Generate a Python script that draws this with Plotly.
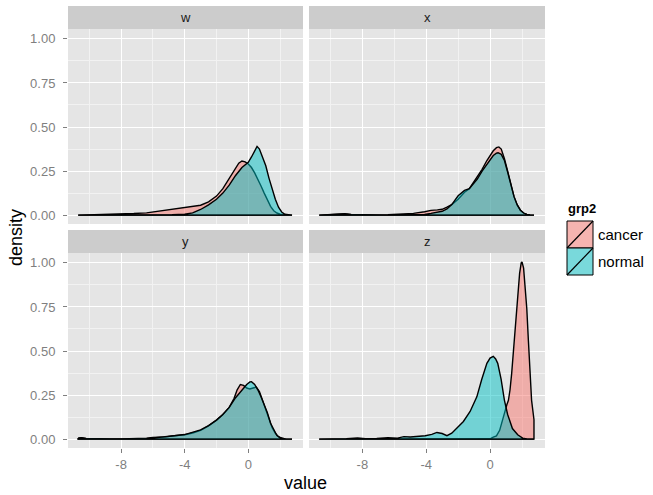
import plotly.graph_objects as go

# ---------------- data ----------------
facets = ["w", "x", "y", "z"]
groups = ["cancer", "normal"]
x_ticks = [-8, -4, 0]
y_ticks = [0.0, 0.25, 0.5, 0.75, 1.0]
y_tick_labels = ["0.00", "0.25", "0.50", "0.75", "1.00"]

w_cancer_x = [-10.7, -10.3, -9.5, -8.7, -8.0, -7.2, -6.4, -5.6, -4.8, -4.0, -3.5, -3.0, -2.5, -2.0, -1.6, -1.2,
              -0.8, -0.6, -0.4, -0.2, 0.0, 0.2, 0.4, 0.6, 0.8, 1.0, 1.2, 1.4, 1.6, 1.8, 2.0, 2.2, 2.4, 2.75]
w_cancer_d = [0.0, 0.001, 0.001, 0.002, 0.004, 0.009, 0.013, 0.023, 0.031, 0.045, 0.05, 0.056, 0.075, 0.108, 0.15, 0.21,
              0.265, 0.295, 0.307, 0.302, 0.29, 0.27, 0.24, 0.205, 0.165, 0.125, 0.085, 0.05, 0.025, 0.012, 0.005, 0.002, 0.0, 0.0]
w_normal_x = [-10.7, -8.0, -6.0, -4.8, -4.0, -3.5, -3.0, -2.5, -2.0, -1.6, -1.2, -0.8, -0.4, 0.0, 0.2, 0.4, 0.55,
              0.7, 0.9, 1.1, 1.3, 1.5, 1.7, 1.9, 2.1, 2.3, 2.5, 2.75]
w_normal_d = [0.0, 0.0, 0.001, 0.002, 0.005, 0.013, 0.032, 0.058, 0.09, 0.125, 0.17, 0.225, 0.27, 0.30, 0.33, 0.37, 0.39,
              0.375, 0.33, 0.28, 0.21, 0.15, 0.09, 0.045, 0.018, 0.005, 0.001, 0.0]

x_cancer_x = [-10.7, -9.5, -9.1, -8.7, -8.0, -7.2, -6.4, -5.6, -4.8, -4.1, -3.7, -3.3, -3.0, -2.7, -2.4, -2.0, -1.6,
              -1.3, -1.0, -0.8, -0.5, -0.2, 0.0, 0.2, 0.4, 0.55, 0.7, 0.9, 1.1, 1.3, 1.5, 1.7, 1.9, 2.1, 2.3, 2.5, 2.75]
x_cancer_d = [0.0, 0.003, 0.008, 0.004, 0.001, 0.001, 0.002, 0.004, 0.01, 0.019, 0.027, 0.03, 0.033, 0.045, 0.06, 0.09, 0.13,
              0.15, 0.19, 0.215, 0.26, 0.31, 0.34, 0.365, 0.383, 0.387, 0.375, 0.32, 0.25, 0.17, 0.105, 0.058, 0.028, 0.012, 0.004, 0.001, 0.0]
x_normal_x = [-10.7, -9.5, -9.1, -8.7, -8.0, -7.2, -6.4, -5.6, -4.8, -4.1, -3.7, -3.3, -3.0, -2.7, -2.4, -2.0, -1.6,
              -1.3, -1.0, -0.8, -0.5, -0.2, 0.0, 0.2, 0.4, 0.5, 0.7, 0.9, 1.1, 1.3, 1.5, 1.7, 1.9, 2.1, 2.3, 2.5, 2.75]
x_normal_d = [0.0, 0.003, 0.007, 0.003, 0.001, 0.0, 0.0, 0.001, 0.002, 0.004, 0.01, 0.016, 0.022, 0.035, 0.06, 0.11, 0.14,
              0.15, 0.18, 0.205, 0.25, 0.29, 0.315, 0.338, 0.352, 0.354, 0.345, 0.31, 0.245, 0.17, 0.105, 0.058, 0.028, 0.012, 0.004, 0.001, 0.0]

y_cancer_x = [-10.7, -10.5, -10.2, -9.5, -8.7, -8.0, -7.2, -6.4, -6.0, -5.6, -5.2, -4.8, -4.0, -3.5, -3.0, -2.5, -2.0,
              -1.6, -1.2, -0.9, -0.7, -0.5, -0.3, -0.1, 0.1, 0.3, 0.5, 0.7, 0.9, 1.1, 1.3, 1.5, 1.7, 1.9, 2.1, 2.3, 2.75]
y_cancer_d = [0.005, 0.008, 0.004, 0.001, 0.001, 0.001, 0.002, 0.005, 0.01, 0.01, 0.013, 0.018, 0.025, 0.035, 0.05, 0.075, 0.108,
              0.14, 0.18, 0.23, 0.28, 0.31, 0.305, 0.29, 0.285, 0.29, 0.295, 0.27, 0.22, 0.165, 0.11, 0.065, 0.033, 0.014, 0.005, 0.001, 0.0]
y_normal_x = [-10.7, -10.5, -10.2, -9.5, -8.0, -6.4, -6.0, -5.6, -5.2, -4.8, -4.0, -3.5, -3.0, -2.5, -2.0, -1.6, -1.2,
              -0.8, -0.5, -0.3, -0.1, 0.1, 0.2, 0.4, 0.6, 0.8, 1.0, 1.2, 1.4, 1.6, 1.8, 2.0, 2.2, 2.4, 2.75]
y_normal_d = [0.006, 0.008, 0.003, 0.001, 0.001, 0.003, 0.006, 0.008, 0.012, 0.018, 0.026, 0.038, 0.052, 0.077, 0.108, 0.14, 0.18,
              0.235, 0.27, 0.29, 0.31, 0.325, 0.326, 0.31, 0.28, 0.24, 0.20, 0.15, 0.09, 0.05, 0.02, 0.008, 0.002, 0.0, 0.0]

z_cancer_x = [-10.7, -8.0, -4.0, -1.0, 0.0, 0.2, 0.4, 0.6, 0.8, 0.95, 1.05, 1.15, 1.25, 1.35, 1.45, 1.55, 1.65, 1.75,
              1.85, 1.95, 2.0, 2.1, 2.2, 2.3, 2.4, 2.5, 2.6, 2.75]
z_cancer_d = [0.0, 0.0, 0.0, 0.001, 0.002, 0.011, 0.018, 0.05, 0.12, 0.17, 0.195, 0.22, 0.28, 0.37, 0.48, 0.61, 0.73, 0.85,
              0.94, 1.0, 1.006, 0.97, 0.87, 0.74, 0.56, 0.38, 0.22, 0.11]
z_normal_x = [-10.7, -9.8, -9.0, -8.3, -7.8, -7.1, -6.4, -5.8, -5.4, -5.0, -4.6, -4.06, -3.65, -3.33, -3.0, -2.7, -2.4,
              -2.08, -1.67, -1.25, -0.83, -0.52, -0.2, 0.0, 0.2, 0.35, 0.48, 0.69, 0.9, 1.1, 1.4, 1.73, 2.04, 2.3, 2.75]
z_normal_d = [0.0, 0.0, 0.002, 0.007, 0.002, 0.004, 0.008, 0.006, 0.014, 0.012, 0.015, 0.019, 0.027, 0.038, 0.032, 0.02, 0.034,
              0.063, 0.10, 0.157, 0.24, 0.34, 0.43, 0.46, 0.47, 0.455, 0.43, 0.34, 0.22, 0.14, 0.06, 0.025, 0.006, 0.001, 0.0]

series = {
    "w": [(w_cancer_x, w_cancer_d), (w_normal_x, w_normal_d)],
    "x": [(x_cancer_x, x_cancer_d), (x_normal_x, x_normal_d)],
    "y": [(y_cancer_x, y_cancer_d), (y_normal_x, y_normal_d)],
    "z": [(z_cancer_x, z_cancer_d), (z_normal_x, z_normal_d)],
}

# ---------------- styling / layout ----------------
W, H = 653, 495
FONT = "Liberation Sans, Arial, Helvetica, sans-serif"
fills = ["rgba(248,118,109,0.5)", "rgba(0,191,196,0.5)"]
GREY50 = "#7F7F7F"

def px_x(p):
    return p / W

def px_y(p):
    return 1 - p / H

col_px = [(68, 303), (309, 545)]
row_px = [(29, 224), (253, 448)]
strip_px = [(6, 29), (230, 253)]
xr = [-11.34, 3.44]
yr = [-0.0503, 1.056]

fig = go.Figure()
layout = dict(
    width=W, height=H,
    margin=dict(l=0, r=0, t=0, b=0),
    paper_bgcolor="white",
    plot_bgcolor="#E5E5E5",
    showlegend=False,
    font=dict(family=FONT),
)
shapes = []
annotations = []

for i, f in enumerate(facets):
    r, c = divmod(i, 2)
    n = i + 1
    xa = "xaxis" if n == 1 else f"xaxis{n}"
    ya = "yaxis" if n == 1 else f"yaxis{n}"
    xref = "x" if n == 1 else f"x{n}"
    yref = "y" if n == 1 else f"y{n}"
    layout[xa] = dict(
        domain=[px_x(col_px[c][0]), px_x(col_px[c][1])], range=xr, anchor=yref,
        tickvals=x_ticks, ticktext=[str(v) for v in x_ticks],
        showticklabels=(r == 1), ticks="outside" if r == 1 else "", ticklen=4, tickwidth=1,
        tickcolor=GREY50, tickfont=dict(size=13, color=GREY50, family=FONT),
        showgrid=True, gridcolor="white", gridwidth=1.4, zeroline=False, showline=False,
        minor=dict(tickvals=[-10, -6, -2, 2], showgrid=True, gridcolor="#F2F2F2", gridwidth=0.8, ticks=""),
        fixedrange=True,
    )
    layout[ya] = dict(
        domain=[px_y(row_px[r][1]), px_y(row_px[r][0])], range=yr, anchor=xref,
        tickvals=y_ticks, ticktext=y_tick_labels,
        showticklabels=(c == 0), ticks="outside" if c == 0 else "", ticklen=4, tickwidth=1,
        tickcolor=GREY50, tickfont=dict(size=13, color=GREY50, family=FONT),
        ticklabelstandoff=5,
        showgrid=True, gridcolor="white", gridwidth=1.4, zeroline=False, showline=False,
        minor=dict(tickvals=[0.125, 0.375, 0.625, 0.875], showgrid=True, gridcolor="#F2F2F2", gridwidth=0.8, ticks=""),
        fixedrange=True,
    )
    for g, (xs, ds) in enumerate(series[f]):
        px_ = list(xs) + [xs[-1], xs[0], xs[0]]
        py_ = list(ds) + [0.0, 0.0, ds[0]]
        fig.add_trace(go.Scatter(
            x=px_, y=py_, xaxis=xref, yaxis=yref, mode="lines", fill="toself",
            fillcolor=fills[g], line=dict(color="black", width=1.4), name=groups[g],
            hoverinfo="skip",
        ))
    # strip
    shapes.append(dict(type="rect", xref="paper", yref="paper", layer="below",
                       x0=px_x(col_px[c][0]), x1=px_x(col_px[c][1]),
                       y0=px_y(strip_px[r][1]), y1=px_y(strip_px[r][0]),
                       fillcolor="#CCCCCC", line=dict(width=0)))
    annotations.append(dict(xref="paper", yref="paper",
                            x=px_x((col_px[c][0] + col_px[c][1]) / 2),
                            y=px_y((strip_px[r][0] + strip_px[r][1]) / 2),
                            text=f, showarrow=False, xanchor="center", yanchor="middle",
                            font=dict(size=13, color="#1A1A1A", family=FONT)))

# axis titles
annotations.append(dict(xref="paper", yref="paper", x=px_x(305), y=px_y(483), text="value",
                        showarrow=False, xanchor="center", yanchor="middle",
                        font=dict(size=18, color="black", family=FONT)))
annotations.append(dict(xref="paper", yref="paper", x=px_x(16), y=px_y(238), text="density",
                        showarrow=False, xanchor="center", yanchor="middle", textangle=-90,
                        font=dict(size=18, color="black", family=FONT)))

# legend (drawn manually to mimic ggplot keys)
annotations.append(dict(xref="paper", yref="paper", x=px_x(566), y=px_y(208), text="<b>grp2</b>",
                        showarrow=False, xanchor="left", yanchor="middle",
                        font=dict(size=13, color="black", family=FONT)))
key_top = [221, 248]
for g in range(2):
    y0, y1 = key_top[g], key_top[g] + 27
    shapes.append(dict(type="rect", xref="paper", yref="paper", x0=px_x(567), x1=px_x(593),
                       y0=px_y(y1), y1=px_y(y0), fillcolor="#F2F2F2", line=dict(width=0)))
    shapes.append(dict(type="rect", xref="paper", yref="paper", x0=px_x(567), x1=px_x(593),
                       y0=px_y(y1), y1=px_y(y0), fillcolor=fills[g], line=dict(color="black", width=1)))
    shapes.append(dict(type="line", xref="paper", yref="paper", x0=px_x(567), x1=px_x(593),
                       y0=px_y(y1), y1=px_y(y0), line=dict(color="black", width=1.2)))
    annotations.append(dict(xref="paper", yref="paper", x=px_x(596), y=px_y((y0 + y1) / 2),
                            text=groups[g], showarrow=False, xanchor="left", yanchor="middle",
                            font=dict(size=15, color="black", family=FONT)))

layout["shapes"] = shapes
layout["annotations"] = annotations
fig.update_layout(**layout)
fig.write_html("out.html", config={"displayModeBar": False},
               post_script="document.body.style.margin='0px';document.body.style.padding='0px';")
